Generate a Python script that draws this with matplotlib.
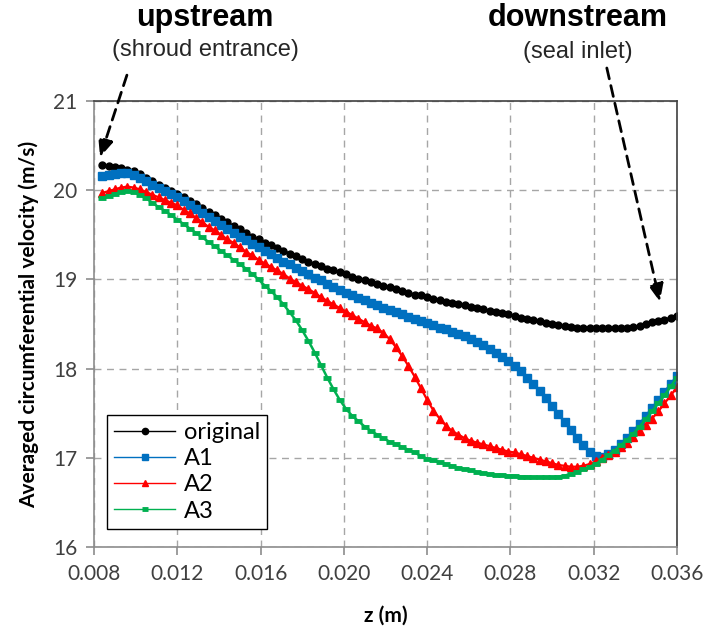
import numpy as np
import matplotlib
matplotlib.use("Agg")
import matplotlib.pyplot as plt
from matplotlib.ticker import MultipleLocator, FormatStrFormatter

# axial position along the shroud (m)
z = np.round(np.arange(0.0084, 0.03601, 0.0003), 4)

# averaged circumferential velocity (m/s) for each geometry
v_original = [
    20.28, 20.27, 20.26, 20.25, 20.23, 20.21, 20.18, 20.14, 20.10, 20.06,
    20.03, 19.99, 19.96, 19.92, 19.88, 19.84, 19.80, 19.76, 19.72, 19.68,
    19.64, 19.60, 19.56, 19.52, 19.48, 19.45, 19.41, 19.38, 19.35, 19.32,
    19.29, 19.26, 19.23, 19.20, 19.17, 19.15, 19.12, 19.10, 19.08, 19.06,
    19.03, 19.01, 18.99, 18.97, 18.95, 18.93, 18.91, 18.89, 18.87, 18.85,
    18.83, 18.82, 18.80, 18.78, 18.77, 18.75, 18.74, 18.72, 18.71, 18.69,
    18.68, 18.67, 18.65, 18.64, 18.62, 18.61, 18.59, 18.57, 18.56, 18.54,
    18.53, 18.51, 18.50, 18.49, 18.48, 18.47, 18.46, 18.45, 18.45, 18.45,
    18.45, 18.45, 18.45, 18.45, 18.46, 18.47, 18.48, 18.50, 18.52, 18.53,
    18.55, 18.57, 18.59]
v_a1 = [
    20.16, 20.17, 20.18, 20.19, 20.19, 20.17, 20.14, 20.10, 20.06, 20.03,
    19.99, 19.96, 19.92, 19.88, 19.83, 19.79, 19.74, 19.70, 19.65, 19.61,
    19.56, 19.52, 19.48, 19.44, 19.40, 19.36, 19.32, 19.28, 19.24, 19.20,
    19.17, 19.13, 19.09, 19.06, 19.02, 18.99, 18.95, 18.92, 18.88, 18.85,
    18.82, 18.79, 18.77, 18.74, 18.71, 18.68, 18.66, 18.63, 18.61, 18.58,
    18.56, 18.53, 18.51, 18.49, 18.46, 18.44, 18.41, 18.39, 18.36, 18.33,
    18.30, 18.26, 18.22, 18.18, 18.13, 18.08, 18.03, 17.97, 17.90, 17.83,
    17.75, 17.67, 17.58, 17.49, 17.40, 17.31, 17.22, 17.14, 17.07, 17.02,
    17.01, 17.04, 17.09, 17.15, 17.22, 17.30, 17.38, 17.47, 17.56, 17.65,
    17.74, 17.83, 17.92]
v_a2 = [
    19.97, 19.99, 20.01, 20.03, 20.04, 20.03, 20.01, 19.98, 19.95, 19.92,
    19.89, 19.86, 19.83, 19.78, 19.74, 19.69, 19.64, 19.59, 19.55, 19.50,
    19.45, 19.41, 19.36, 19.31, 19.27, 19.22, 19.18, 19.14, 19.10, 19.06,
    19.01, 18.97, 18.93, 18.89, 18.85, 18.80, 18.76, 18.72, 18.68, 18.64,
    18.60, 18.56, 18.52, 18.48, 18.45, 18.40, 18.33, 18.24, 18.14, 18.03,
    17.91, 17.78, 17.65, 17.53, 17.44, 17.36, 17.30, 17.26, 17.22, 17.19,
    17.17, 17.15, 17.13, 17.11, 17.09, 17.07, 17.06, 17.04, 17.02, 17.00,
    16.98, 16.96, 16.94, 16.92, 16.91, 16.90, 16.90, 16.91, 16.93, 16.96,
    17.00, 17.03, 17.07, 17.12, 17.17, 17.23, 17.30, 17.37, 17.44, 17.52,
    17.61, 17.70, 17.79]
v_a3 = [
    19.91, 19.93, 19.96, 19.98, 19.99, 19.98, 19.95, 19.91, 19.86, 19.81,
    19.77, 19.72, 19.67, 19.62, 19.57, 19.52, 19.47, 19.42, 19.37, 19.32,
    19.27, 19.22, 19.17, 19.12, 19.06, 19.00, 18.93, 18.87, 18.80, 18.72,
    18.63, 18.54, 18.43, 18.31, 18.18, 18.04, 17.90, 17.77, 17.65, 17.55,
    17.47, 17.41, 17.35, 17.30, 17.26, 17.22, 17.18, 17.15, 17.12, 17.09,
    17.06, 17.02, 16.99, 16.97, 16.95, 16.93, 16.91, 16.89, 16.87, 16.86,
    16.84, 16.83, 16.82, 16.81, 16.81, 16.80, 16.80, 16.79, 16.79, 16.78,
    16.78, 16.78, 16.78, 16.79, 16.80, 16.82, 16.84, 16.87, 16.90, 16.93,
    16.98, 17.03, 17.08, 17.14, 17.20, 17.27, 17.35, 17.43, 17.52, 17.61,
    17.70, 17.80, 17.90]

labels = ['original', 'A1', 'A2', 'A3']

axis_font = ['Lato', 'DejaVu Sans']
note_font = ['Liberation Sans', 'DejaVu Sans']
plt.rcParams['font.family'] = axis_font

fig = plt.figure(figsize=(7.08, 6.32), dpi=100, facecolor='w')
ax = fig.add_axes([0.1328, 0.1345, 0.8234, 0.7057])

ax.plot(z, v_original, color='black', lw=1.6, marker='o', ms=5,
        label=labels[0])
ax.plot(z, v_a1, color='#0070C0', lw=1.6, marker='s', ms=6.3,
        label=labels[1])
ax.plot(z, v_a2, color='#FF0000', lw=1.6, marker='^', ms=6.3,
        label=labels[2])
ax.plot(z, v_a3, color='#00B050', lw=1.8, marker='_', ms=5.5, mew=3.5,
        label=labels[3])

ax.set_xlim(0.008, 0.036)
ax.set_ylim(16, 21)
ax.xaxis.set_major_locator(MultipleLocator(0.004))
ax.xaxis.set_major_formatter(FormatStrFormatter('%.3f'))
ax.yaxis.set_major_locator(MultipleLocator(1))

ax.grid(True, color='#a6a6a6', lw=1, ls=(0, (5, 4)))
ax.set_axisbelow(True)

for side in ('left', 'bottom'):
    ax.spines[side].set_color('#8c8c8c')
    ax.spines[side].set_linewidth(1.2)
for side in ('top', 'right'):
    ax.spines[side].set_color('#404040')
    ax.spines[side].set_linewidth(1.2)

ax.tick_params(direction='out', length=6, width=1.2, color='#8c8c8c',
               labelsize=15, labelcolor='#404040', pad=6)

ax.set_xlabel('z (m)', fontsize=15, fontweight='bold', labelpad=16)
ax.set_ylabel('Averaged circumferential velocity (m/s)', fontsize=15,
              fontweight='bold', labelpad=10)

leg = ax.legend(loc='upper left', bbox_to_anchor=(0.0223, 0.296),
                borderaxespad=0, fancybox=False, framealpha=1,
                edgecolor='black', fontsize=17, handlelength=2.6,
                handletextpad=0.35, labelspacing=0.22, numpoints=1,
                borderpad=0.3)
leg.get_frame().set_linewidth(1.0)
for h in leg.get_lines():
    h.set_linewidth(1.0)
    h.set_markersize(4.5)

# location labels and dashed pointers
fig.text(0.2895, 0.9715, 'upstream', ha='center', va='center',
         fontsize=22, fontweight='bold', family=note_font)
fig.text(0.2895, 0.921, '(shroud entrance)', ha='center', va='center',
         fontsize=17, color='#262626', family=note_font)
fig.text(0.8164, 0.9715, 'downstream', ha='center', va='center',
         fontsize=22, fontweight='bold', family=note_font)
fig.text(0.8164, 0.918, '(seal inlet)', ha='center', va='center',
         fontsize=17, color='#262626', family=note_font)

arrow = dict(arrowstyle='-|>,head_length=0.7,head_width=0.3',
             mutation_scale=15, color='black', lw=2, ls=(0, (4, 2.5)),
             shrinkA=0, shrinkB=0)
ax.annotate('', xy=(0.00829, 20.37), xytext=(0.00958, 21.29),
            arrowprops=arrow, annotation_clip=False)
ax.annotate('', xy=(0.03518, 18.75), xytext=(0.03263, 21.37),
            arrowprops=arrow, annotation_clip=False)

fig.savefig('out.png', dpi=100)
